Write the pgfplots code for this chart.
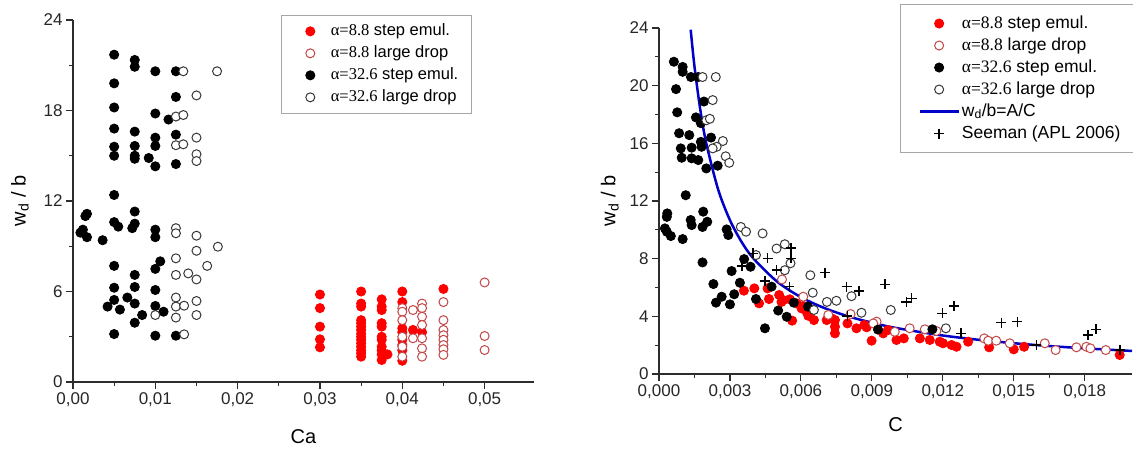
\documentclass[border=0pt]{standalone}
\usepackage{pgfplots}
\pgfplotsset{compat=1.18}
\usepackage{fontspec}
\setmainfont{Liberation Sans}
\newfontfamily\serif{Liberation Serif}
\definecolor{redopen}{RGB}{195,70,70}
\definecolor{axgray}{RGB}{45,45,45}
\definecolor{lineblue}{RGB}{0,0,200}
\definecolor{openblack}{RGB}{55,55,55}
\pgfplotsset{
  mystyle/.style={
    scale only axis,
    axis x line*=bottom, axis y line*=left,
    axis line style={axgray, line width=1.1pt},
    tick align=outside,
    major tick length=7pt, minor tick length=4pt,
    every tick/.style={axgray, line width=1.1pt},
    minor x tick num=1, minor y tick num=1,
    tick label style={font=\fontsize{17}{20}\selectfont, text=black!85},
    label style={font=\fontsize{20}{24}\selectfont},
    /pgf/number format/assume math mode=true,
    /pgf/number format/use comma,
    legend cell align=left,
    clip=false,
  },
  redfill/.style={only marks, mark=*, mark size=4.6pt, mark options={fill=red, draw=red, line width=0.8pt}},
  redring/.style={only marks, mark=*, mark size=4.5pt, mark options={fill=white, draw=redopen, line width=1pt}},
  blackfill/.style={only marks, mark=*, mark size=4.6pt, mark options={fill=black, draw=black, line width=0.8pt}},
  blackring/.style={only marks, mark=*, mark size=4.5pt, mark options={fill=white, draw=openblack, line width=1pt}},
}
\begin{document}
\begin{tikzpicture}
\useasboundingbox (0,0) rectangle (1133pt,451pt);
% ---------------- left panel ----------------
\begin{axis}[mystyle,
  at={(73pt,69pt)}, anchor=south west,
  width=461pt, height=362pt,
  xmin=0, xmax=0.056, ymin=0, ymax=24,
  xtick={0,0.01,0.02,0.03,0.04,0.05},
  ytick={0,6,12,18,24},
  xticklabel style={/pgf/number format/.cd, fixed, fixed zerofill, precision=2, use comma},
  scaled x ticks=false,
  xlabel={Ca}, ylabel={w\textsubscript{d} / b},
  xlabel style={at={(axis description cs:0.5,-0.152)}, anchor=center},
  ylabel style={at={(axis description cs:-0.115,0.5)}, anchor=center},
  legend image code/.code={\path[draw=none,fill=none] (0pt,0pt) (36pt,0pt); \draw[mark repeat=2,mark phase=2,#1] plot coordinates {(0pt,0pt) (18pt,0pt) (36pt,0pt)};},
  legend style={at={(0.451,1.014)}, anchor=north west, draw=black!35, line width=0.8pt,
    font=\fontsize{16.5}{20}\selectfont, inner xsep=11pt, inner ysep=5pt,
    nodes={inner sep=2.5pt, text height=13pt, text depth=4pt}},
]
\addplot[redfill] coordinates {
(0.030,5.8) (0.030,4.9) (0.030,3.67) (0.030,2.83) (0.030,2.3)
(0.035,6.0) (0.035,5.2) (0.035,5.0) (0.035,4.1) (0.035,3.9) (0.035,3.67) (0.035,3.45) (0.035,3.2) (0.035,3.0) (0.035,2.8) (0.035,2.57) (0.035,2.34) (0.035,2.1) (0.035,1.9) (0.035,1.68)
(0.0375,5.48) (0.0375,5.0) (0.0375,4.77) (0.0375,3.9) (0.0375,3.67) (0.0375,3.0) (0.0375,2.8) (0.0375,2.34) (0.0375,2.1) (0.0375,1.83) (0.0375,1.46) (0.0382,1.83)
(0.040,6.0) (0.040,5.3) (0.040,3.56) (0.040,3.3) (0.040,2.8) (0.040,2.45) (0.040,2.1) (0.040,1.41)
(0.0413,3.45) (0.0424,3.3) (0.045,6.17)
};
\addlegendentry{{\serif α=8.8} step emul.}
\addplot[redring] coordinates {
(0.040,4.9) (0.040,4.66) (0.040,4.1) (0.040,3.0) (0.040,2.34) (0.040,1.68)
(0.0413,4.77) (0.0413,2.9)
(0.0424,5.2) (0.0424,4.9) (0.0424,4.33) (0.0424,3.78) (0.0424,2.9) (0.0424,2.23) (0.0424,1.68)
(0.045,5.3) (0.045,4.1) (0.045,3.45) (0.045,3.1) (0.045,2.8) (0.045,2.45) (0.045,2.17) (0.045,1.8)
(0.050,6.6) (0.050,3.05) (0.050,2.12)
};
\addlegendentry{{\serif α=8.8} large drop}
\addplot[blackfill] coordinates {
(0.005,21.7) (0.0075,21.35) (0.0075,20.9) (0.01,20.6) (0.0125,20.6) (0.005,19.8) (0.0125,18.9) (0.005,18.2) (0.01,17.8) (0.0116,17.4)
(0.005,16.8) (0.0075,16.6) (0.0125,16.4) (0.01,16.2) (0.01,15.65) (0.005,15.6) (0.0075,15.65) (0.005,15.0) (0.0075,15.0) (0.0075,14.8)
(0.0092,14.85) (0.01,14.3) (0.0125,14.45) (0.005,12.4) (0.0075,11.3) (0.0015,11.0) (0.0017,11.15) (0.005,10.6) (0.0055,10.3) (0.0075,10.5)
(0.0072,10.2) (0.0012,10.1) (0.0009,9.9) (0.0017,9.6) (0.0036,9.4) (0.01,10.1) (0.01,9.6) (0.005,7.7) (0.0075,7.1) (0.01,7.5)
(0.0106,8.0) (0.005,6.25) (0.0075,6.3) (0.01,6.1) (0.0066,5.6) (0.005,5.44) (0.0075,5.2) (0.0042,5.0) (0.0057,4.8) (0.01,5.04)
(0.011,4.66) (0.0084,4.44) (0.0075,3.93) (0.005,3.18) (0.01,3.07) (0.0125,3.07)
};
\addlegendentry{{\serif α=32.6} step emul.}
\addplot[blackring] coordinates {
(0.0134,20.6) (0.0175,20.6) (0.015,19.0) (0.0125,17.6) (0.0134,17.7) (0.015,16.2) (0.0125,15.7) (0.0134,15.76) (0.015,15.1) (0.015,14.65)
(0.0125,10.2) (0.0125,9.86) (0.015,9.7) (0.015,8.7) (0.0176,8.97) (0.0125,8.2) (0.0163,7.7) (0.0125,7.1) (0.014,7.2) (0.015,6.8)
(0.0125,5.6) (0.015,5.37) (0.0125,5.0) (0.0135,5.06) (0.01,4.44) (0.0125,4.27) (0.015,4.44) (0.0135,3.16)
};
\addlegendentry{{\serif α=32.6} large drop}
\end{axis}
% ---------------- right panel ----------------
\begin{axis}[mystyle,
  at={(659pt,77pt)}, anchor=south west,
  width=473pt, height=346pt,
  xmin=0, xmax=0.020, ymin=0, ymax=24,
  xtick={0,0.003,0.006,0.009,0.012,0.015,0.018},
  ytick={0,4,8,12,16,20,24},
  xticklabel style={/pgf/number format/.cd, fixed, fixed zerofill, precision=3, use comma},
  scaled x ticks=false,
  xlabel={C}, ylabel={w\textsubscript{d} / b},
  xlabel style={at={(axis description cs:0.5,-0.147)}, anchor=center},
  ylabel style={at={(axis description cs:-0.104,0.5)}, anchor=center},
  legend image code/.code={\path[draw=none,fill=none] (0pt,0pt) (38pt,0pt); \draw[mark repeat=2,mark phase=2,#1] plot coordinates {(0pt,0pt) (19pt,0pt) (38pt,0pt)};},
  legend style={at={(0.5095,1.069)}, anchor=north west, draw=black!35, line width=0.8pt,
    font=\fontsize{17.5}{20}\selectfont, inner xsep=18.5pt, inner ysep=8pt,
    nodes={inner sep=2.5pt, text height=13pt, text depth=4pt}},
]
\addplot[redfill] coordinates {
(0.00359,5.78) (0.00403,5.94) (0.00423,4.9) (0.00465,5.2) (0.00459,5.94) (0.00508,5.48) (0.00518,5.0) (0.00553,5.18) (0.00563,3.7) (0.00582,4.9)
(0.0061,4.72) (0.00631,4.04) (0.00655,3.74) (0.00709,3.74) (0.00744,3.74) (0.00744,3.28) (0.00744,2.82) (0.00797,3.51) (0.00835,3.17) (0.00868,3.4)
(0.00899,2.31) (0.00948,2.82) (0.00525,5.13) (0.00603,4.55) (0.00624,4.32) (0.0073,3.86) (0.00878,3.24) (0.00969,3.05) (0.01004,2.36) (0.01035,2.47)
(0.01103,2.47) (0.01145,2.36) (0.01187,2.24) (0.01201,2.13) (0.01237,2.01) (0.01258,1.89) (0.01307,2.24) (0.01396,1.85) (0.015,1.71) (0.01544,1.89)
(0.01948,1.32)
};
\addlegendentry{{\serif α=8.8} step emul.}
\addplot[redring] coordinates {
(0.0052,6.56) (0.0061,5.36) (0.00716,4.1) (0.0081,4.16) (0.0092,3.63) (0.00906,3.51) (0.00997,2.93) (0.0106,3.17) (0.01124,3.1) (0.01173,2.98)
(0.01375,2.47) (0.01392,2.31) (0.01426,2.31) (0.01483,2.13) (0.01631,2.13) (0.01677,1.66) (0.01765,1.85) (0.01807,1.89) (0.01824,1.78) (0.01889,1.66)
};
\addlegendentry{{\serif α=8.8} large drop}
\addplot[blackfill] coordinates {
(0.00063,21.66) (0.001,21.3) (0.001,20.96) (0.00135,20.6) (0.00166,20.6) (0.00072,19.76) (0.0019,18.9) (0.00077,18.15) (0.00156,17.8) (0.00177,17.4)
(0.00085,16.7) (0.00128,16.57) (0.0022,16.4) (0.00177,16.1) (0.00092,15.65) (0.00138,15.7) (0.0018,15.76) (0.00096,15.0) (0.00138,14.96) (0.00166,14.84)
(0.002,14.26) (0.00248,14.45) (0.00113,12.4) (0.00187,11.26) (0.00035,11.14) (0.00033,10.9) (0.00134,10.68) (0.00138,10.33) (0.00204,10.56) (0.00184,10.2)
(0.00025,10.1) (0.00033,9.87) (0.0005,9.57) (0.001,9.36) (0.00286,10.03) (0.00293,9.64) (0.00184,7.74) (0.0036,7.97) (0.00387,7.44) (0.00307,7.14)
(0.0023,6.24) (0.00342,6.33) (0.00265,5.36) (0.00241,4.95) (0.00318,5.53) (0.003,4.83) (0.0041,5.2) (0.00476,6.06) (0.0054,3.97) (0.0057,4.95)
(0.00504,4.4) (0.00448,3.17) (0.0063,4.67) (0.00926,3.08) (0.01156,3.1)
};
\addlegendentry{{\serif α=32.6} step emul.}
\addplot[blackring] coordinates {
(0.00184,20.6) (0.0024,20.6) (0.00227,19.0) (0.002,17.6) (0.00215,17.7) (0.0027,16.16) (0.00244,15.76) (0.00227,15.65) (0.00282,15.1) (0.00297,14.65)
(0.00346,10.2) (0.00368,9.87) (0.00438,9.75) (0.00497,8.7) (0.00532,9.0) (0.0041,8.25) (0.00556,7.68) (0.00532,7.2) (0.0064,6.85) (0.0065,5.64)
(0.0071,5.0) (0.0075,5.08) (0.00814,5.4) (0.00856,4.25) (0.00655,4.44) (0.0098,4.44) (0.01213,3.17)
};
\addlegendentry{{\serif α=32.6} large drop}
\addplot[lineblue, line width=2.5pt, no marks, smooth] coordinates {
(0.00134,23.88) (0.0015,21.33) (0.00175,18.29) (0.002,16.0) (0.0025,12.8) (0.003,10.67) (0.0035,9.14) (0.004,8.0) (0.005,6.4) (0.006,5.33)
(0.007,4.57) (0.008,4.0) (0.009,3.56) (0.010,3.2) (0.012,2.67) (0.014,2.29) (0.016,2.0) (0.018,1.78) (0.020,1.6)
};
\addlegendentry{w\textsubscript{d}/b=A/C}
\addplot[only marks, mark=+, mark size=5pt, mark options={black, line width=1.6pt}] coordinates {
(0.00398,8.37) (0.00459,8.02) (0.00352,7.49) (0.00497,7.21) (0.00448,6.47) (0.00551,6.06) (0.00558,8.72) (0.00558,8.02) (0.00701,7.03) (0.00793,6.06)
(0.00846,5.76) (0.00955,6.22) (0.00797,4.02) (0.01046,5.01) (0.01068,5.25) (0.01198,4.2) (0.01248,4.72) (0.01276,2.82) (0.01448,3.56) (0.01515,3.63)
(0.01596,2.01) (0.01814,2.7) (0.01849,3.1) (0.0195,1.66)
};
\addlegendentry{Seeman (APL 2006)}
\end{axis}
\end{tikzpicture}
\end{document}
